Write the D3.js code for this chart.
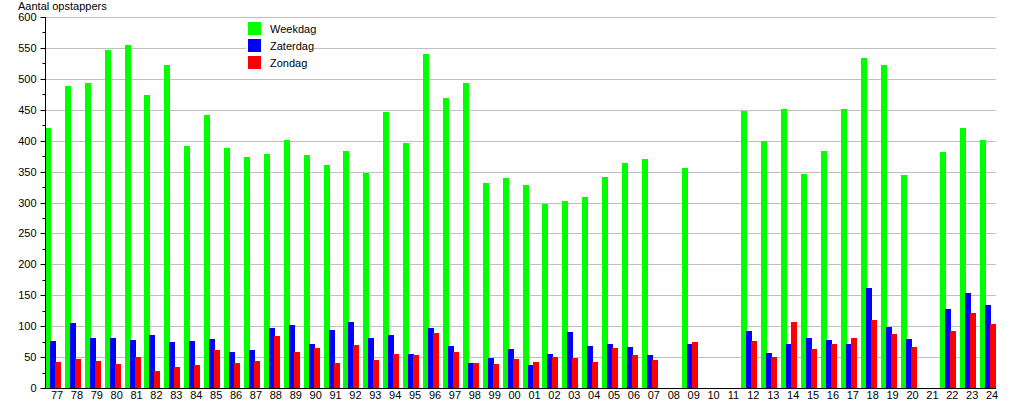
<!DOCTYPE html>
<head>
  <meta charset="utf-8">
  <script src="https://d3js.org/d3.v7.min.js"></script>
  <style>
    body { margin: 0; background: #fff; }
    text { font-family: "Liberation Sans", Arial, sans-serif; font-size: 11px; fill: #000; }
  </style>
</head>
<body>
  <div class="chart"></div>
  <script>
    var categories = ["77","78","79","80","81","82","83","84","85","86","87","88","89","90","91","92","93","94","95","96","97","98","99",
                      "00","01","02","03","04","05","06","07","08","09","10","11","12","13","14","15","16","17","18","19","20","21","22","23","24"];

    var weekdag = [421,489,494,547,555,474,522,391,441,388,374,379,401,377,361,383,347,446,397,540,469,494,332,
                   340,329,298,303,309,341,364,370,0,355,0,0,448,399,452,346,383,451,534,523,344,0,382,420,401];

    var zaterdag = [76,105,81,81,78,86,74,76,79,58,61,97,102,71,94,107,81,86,55,97,68,40,48,
                    63,37,55,90,68,71,66,53,0,71,0,0,92,57,71,81,77,71,161,98,79,0,127,153,135];

    var zondag = [42,47,44,39,50,27,34,37,61,40,44,84,58,65,40,69,45,55,53,89,58,40,39,
                  47,42,50,48,42,65,53,45,0,74,0,0,76,50,106,63,71,81,110,87,66,0,92,121,103];

    var seriesNames = ["Weekdag", "Zaterdag", "Zondag"];
    var seriesColors = ["#00ff00", "#0000ff", "#ff0000"];
    var yTicks = [0,50,100,150,200,250,300,350,400,450,500,550,600];

    (function() {
      var width = 1015, height = 400;
      var left = 45, right = 1000, plotTop = 17, bottom = 388;

      var svg = d3.select(".chart").append("svg")
        .attr("width", width)
        .attr("height", height);

      var x = d3.scaleBand().domain(categories).range([left, right]).padding(0);
      var y = d3.scaleLinear().domain([0, 600]).range([bottom, plotTop]);

      // gridlines
      svg.append("g").selectAll("line")
        .data(yTicks.filter(function(d) { return d > 0; }))
        .enter().append("line")
        .attr("x1", left).attr("x2", 996)
        .attr("y1", function(d) { return Math.round(y(d)) + 0.5; })
        .attr("y2", function(d) { return Math.round(y(d)) + 0.5; })
        .attr("stroke", "#c0c0c0");

      // legend box hides the gridline behind it
      var legend = svg.append("g");
      legend.append("rect")
        .attr("x", 246).attr("y", 19).attr("width", 68).attr("height", 53)
        .attr("fill", "#fff");

      // bars
      var all = [weekdag, zaterdag, zondag];
      all.forEach(function(vals, s) {
        svg.append("g").selectAll("rect")
          .data(categories)
          .enter().append("rect")
          .attr("x", function(d) { return Math.round(x(d)) + s * 5; })
          .attr("width", 6)
          .attr("y", function(d, i) { return Math.round(y(vals[i])); })
          .attr("height", function(d, i) { return bottom - Math.round(y(vals[i])); })
          .attr("fill", seriesColors[s]);
      });

      // y axis
      var yAxis = svg.append("g").attr("transform", "translate(" + (left + 0.5) + ",0)");
      yAxis.append("line").attr("y1", plotTop).attr("y2", bottom).attr("stroke", "#000");
      yAxis.selectAll(".major").data(yTicks).enter().append("line")
        .attr("x1", -5).attr("x2", 0)
        .attr("y1", function(d) { return Math.round(y(d)) + 0.5; })
        .attr("y2", function(d) { return Math.round(y(d)) + 0.5; })
        .attr("stroke", "#000");
      yAxis.selectAll(".minor").data(d3.range(25, 600, 50)).enter().append("line")
        .attr("x1", -3).attr("x2", 0)
        .attr("y1", function(d) { return Math.round(y(d)) + 0.5; })
        .attr("y2", function(d) { return Math.round(y(d)) + 0.5; })
        .attr("stroke", "#000");
      yAxis.selectAll("text").data(yTicks).enter().append("text")
        .attr("x", -9)
        .attr("y", function(d) { return y(d) + 4; })
        .attr("text-anchor", "end")
        .text(function(d) { return d; });

      // x axis
      var xAxis = svg.append("g");
      xAxis.append("line")
        .attr("x1", left).attr("x2", 996)
        .attr("y1", bottom + 0.5).attr("y2", bottom + 0.5)
        .attr("stroke", "#000");
      xAxis.selectAll("text").data(categories).enter().append("text")
        .attr("x", function(d) { return x(d) + 12; })
        .attr("y", 399)
        .attr("text-anchor", "middle")
        .text(function(d) { return d; });

      // title
      svg.append("text").attr("x", 18).attr("y", 10).text("Aantal opstappers");

      // legend
      seriesNames.forEach(function(name, i) {
        legend.append("rect")
          .attr("x", 248).attr("y", 22 + i * 17)
          .attr("width", 13).attr("height", 13)
          .attr("fill", seriesColors[i]);
        legend.append("text")
          .attr("x", 270).attr("y", 33 + i * 17)
          .text(name);
      });
    })();
  </script>
</body>
